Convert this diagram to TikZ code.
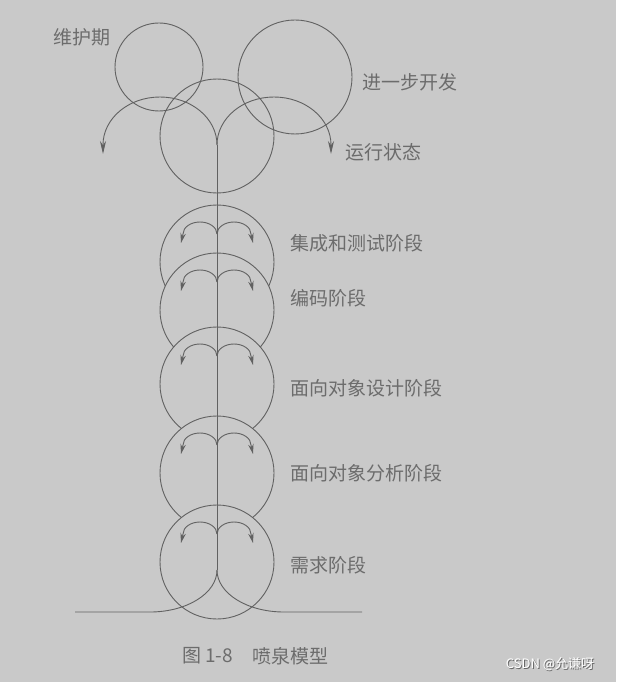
\documentclass[tikz,border=0pt]{standalone}
\usepackage{fontspec}
\setmainfont{Noto Sans CJK SC}
\usetikzlibrary{arrows.meta}
\definecolor{bg}{HTML}{C9C9C9}
\definecolor{ink}{HTML}{616161}
\definecolor{txt}{HTML}{6C6C6C}
\begin{document}
\begin{tikzpicture}[x=1pt,y=1pt,
  ln/.style={draw=ink,line width=0.9pt},
  ring/.style={circle,draw=ink,line width=0.9pt,inner sep=0pt},
  stage/.style={ring,fill=bg,minimum size=114pt},
  lbl/.style={anchor=west,inner sep=0pt,text=txt,font=\fontsize{19}{21}\selectfont},
  bigarr/.style={ln,-{Stealth[length=13pt,width=6pt]}},
  smallarr/.style={ln,-{Stealth[length=10pt,width=5.5pt]}}]
\fill[bg] (0,0) rectangle (616,-682);
\useasboundingbox (0,0) rectangle (616,-682);

% top circles
\node[ring,minimum size=88pt] (maint) at (159,-67) {};
\node[ring,minimum size=114pt] (dev) at (295,-77) {};
\node[ring,minimum size=114pt] (run) at (217,-136) {};

% stage circles (lower ones in front)
\foreach \n/\cy in {s1/262,s2/310,s3/384,s4/473,s5/562}{
  \node[stage] (\n) at (217,-\cy) {};
  \coordinate (\n y) at (217,{-\cy+28});
}

% main stem
\coordinate (ytop) at (217,-145);
\coordinate (cusp) at (217,-570);
\coordinate (gl) at (75,-612);
\coordinate (gr) at (362,-612);
\draw[ln] (ytop) -- (cusp);

% big fountain arcs
\draw[bigarr] (ytop) arc[start angle=0,end angle=180,x radius=57,y radius=48] -- ++(0,-9);
\draw[bigarr] (ytop) arc[start angle=180,end angle=0,x radius=57,y radius=48] -- ++(0,-9);

% small fountain arcs
\foreach \n in {s1,s2,s3,s4,s5}{
  \draw[smallarr] (\n y) arc[start angle=0,end angle=180,x radius=17,y radius=12] -- ++(-2,-9);
  \draw[smallarr] (\n y) arc[start angle=180,end angle=0,x radius=17,y radius=12] -- ++(2,-9);
}

% ground
\draw[ln] (cusp) arc[start angle=0,end angle=-90,x radius=67,y radius=42] -- (gl);
\draw[ln] (cusp) arc[start angle=180,end angle=270,x radius=67,y radius=42] -- (gr);

% labels
\node[lbl] (tmaint) at (53,-37) {维护期};
\node[lbl] (tdev) at (362,-82) {进一步开发};
\node[lbl] (trun) at (345,-152) {运行状态};
\node[lbl] (t1) at (290,-243) {集成和测试阶段};
\node[lbl] (t2) at (290,-298) {编码阶段};
\node[lbl] (t3) at (290,-388) {面向对象设计阶段};
\node[lbl] (t4) at (290,-473) {面向对象分析阶段};
\node[lbl] (t5) at (290,-565) {需求阶段};
\node[lbl] (cap1) at (182,-656) {图 1-8};
\node[lbl] (cap2) at (252,-656) {喷泉模型};

% watermark
\node[inner sep=0pt,text=black!60,font=\fontsize{13}{15}\selectfont] (wms) at (551,-665) {CSDN @允谦呀};
\node[inner sep=0pt,text=white,font=\fontsize{13}{15}\selectfont] (wm) at (550,-664) {CSDN @允谦呀};
\end{tikzpicture}
\end{document}
